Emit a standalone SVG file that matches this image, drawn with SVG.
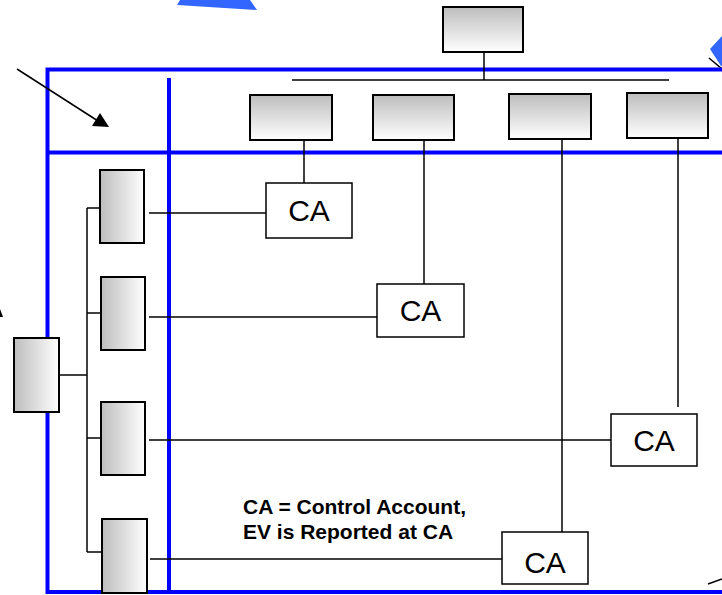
<svg xmlns="http://www.w3.org/2000/svg" width="722" height="595" viewBox="0 0 722 595">
<style>
.blue{stroke:#0000ff;stroke-width:4;fill:none}
.ln{stroke:#000;stroke-width:1.5;fill:none}
.hb{fill:url(#gv);stroke:#000;stroke-width:2}
.vb{fill:url(#gh);stroke:#000;stroke-width:2}
.ca{fill:#fff;stroke:#000;stroke-width:1.5}
.cat{font-family:"Liberation Sans",Arial,sans-serif;font-size:30px;fill:#000;text-anchor:middle}
.note{font-family:"Liberation Sans",Arial,sans-serif;font-size:21px;font-weight:bold;fill:#000}
.deco{fill:#3366ff}
</style>
<defs>
<linearGradient id="gv" x1="0" y1="0" x2="0" y2="1">
<stop offset="0" stop-color="#bdbdbd"/><stop offset="1" stop-color="#ffffff"/>
</linearGradient>
<linearGradient id="gh" x1="0" y1="0" x2="1" y2="0">
<stop offset="0" stop-color="#bdbdbd"/><stop offset="1" stop-color="#ffffff"/>
</linearGradient>
</defs>
<g id="decorations">
<polygon class="deco" points="180,0 250,0 257,10 177,5"/>
<polygon class="deco" points="722,36 710,49 721,66 722,66"/>
<line class="ln" x1="709" y1="58" x2="722" y2="69"/>
<line class="ln" x1="708" y1="584" x2="722" y2="579"/>
<polygon fill="#000" points="0,309 3,317 0,317"/>
</g>
<g id="frame">
<polyline class="blue" points="722,69.5 47.5,69.5 47.5,592 722,592"/>
<line class="blue" x1="47.5" y1="152.5" x2="722" y2="152.5"/>
<line class="blue" x1="169" y1="78" x2="169" y2="592"/>
</g>
<g id="connectors">
<line class="ln" x1="484" y1="52" x2="484" y2="80"/>
<line class="ln" x1="292" y1="80" x2="669" y2="80"/>
<line class="ln" x1="304" y1="140" x2="304" y2="183"/>
<line class="ln" x1="424" y1="140" x2="424" y2="284"/>
<line class="ln" x1="562" y1="139" x2="562" y2="532"/>
<line class="ln" x1="678" y1="138" x2="678" y2="407"/>
<line class="ln" x1="59" y1="375" x2="87" y2="375"/>
<line class="ln" x1="87" y1="208" x2="87" y2="552"/>
<line class="ln" x1="87" y1="208" x2="100" y2="208"/>
<line class="ln" x1="87" y1="313" x2="101" y2="313"/>
<line class="ln" x1="87" y1="438" x2="101" y2="438"/>
<line class="ln" x1="87" y1="552" x2="102" y2="552"/>
<line class="ln" x1="149" y1="213" x2="266" y2="213"/>
<line class="ln" x1="149" y1="317" x2="377" y2="317"/>
<line class="ln" x1="149" y1="440" x2="611" y2="440"/>
<line class="ln" x1="150" y1="559" x2="502" y2="559"/>
<line class="ln" x1="17" y1="69" x2="98" y2="121"/>
<polygon fill="#000" points="109,127 92,126 100,113"/>
</g>
<g id="top"><rect class="hb" x="443" y="7" width="80" height="45"/></g>
<g id="h1"><rect class="hb" x="250" y="95" width="82" height="45"/></g>
<g id="h2"><rect class="hb" x="373" y="95" width="81" height="45"/></g>
<g id="h3"><rect class="hb" x="509" y="94" width="82" height="45"/></g>
<g id="h4"><rect class="hb" x="627" y="93" width="81" height="45"/></g>
<g id="root"><rect class="vb" x="14" y="338" width="45" height="74"/></g>
<g id="v1"><rect class="vb" x="100" y="170" width="44" height="73"/></g>
<g id="v2"><rect class="vb" x="101" y="277" width="44" height="73"/></g>
<g id="v3"><rect class="vb" x="101" y="402" width="44" height="73"/></g>
<g id="v4"><rect class="vb" x="102" y="519" width="45" height="74"/></g>
<g id="ca1"><rect class="ca" x="266" y="183" width="86" height="55"/><text class="cat" x="309" y="221">CA</text></g>
<g id="ca2"><rect class="ca" x="377" y="284" width="87" height="53"/><text class="cat" x="420.5" y="321">CA</text></g>
<g id="ca3"><rect class="ca" x="611" y="414" width="86" height="52"/><text class="cat" x="654" y="451">CA</text></g>
<g id="ca4"><rect class="ca" x="502" y="532" width="86" height="52"/><text class="cat" x="545" y="573">CA</text></g>
<g id="note">
<text class="note" x="243" y="514">CA = Control Account,</text>
<text class="note" x="243" y="539">EV is Reported at CA</text>
</g>
</svg>
